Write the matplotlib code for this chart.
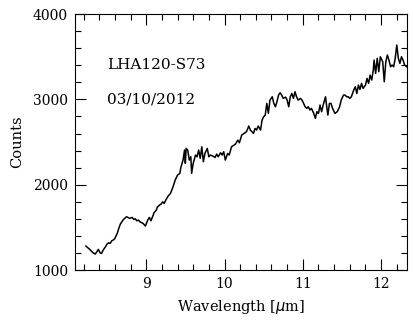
import matplotlib
matplotlib.use("Agg")
import matplotlib.pyplot as plt
from matplotlib.ticker import MultipleLocator

# spectrum
wavelength = [
    8.23, 8.28, 8.32, 8.35, 8.37, 8.39, 8.41, 8.43, 8.45, 8.48, 8.50, 8.52, 8.54,
    8.56, 8.58, 8.60, 8.63, 8.65, 8.67, 8.69, 8.71, 8.75, 8.79, 8.82, 8.84, 8.86,
    8.88, 8.90, 8.92, 8.96, 8.99, 9.02, 9.04, 9.06, 9.09, 9.10, 9.13, 9.14, 9.17,
    9.19, 9.21, 9.23, 9.25, 9.28, 9.31, 9.33, 9.35, 9.37, 9.40, 9.43, 9.44, 9.47,
    9.49, 9.50, 9.51, 9.53, 9.55, 9.57, 9.58, 9.60, 9.63, 9.65, 9.67, 9.69, 9.71,
    9.73, 9.75, 9.78, 9.80, 9.82, 9.85, 9.88, 9.90, 9.92, 9.95, 9.97, 9.99, 10.01,
    10.04, 10.06, 10.09, 10.14, 10.17, 10.19, 10.22, 10.25, 10.28, 10.31, 10.33,
    10.35, 10.37, 10.39, 10.41, 10.43, 10.46, 10.48, 10.50, 10.52, 10.54, 10.56,
    10.58, 10.61, 10.63, 10.65, 10.67, 10.69, 10.71, 10.73, 10.75, 10.78, 10.80,
    10.82, 10.84, 10.86, 10.88, 10.90, 10.92, 10.94, 10.97, 10.99, 11.01, 11.03,
    11.05, 11.07, 11.09, 11.11, 11.14, 11.16, 11.18, 11.20, 11.22, 11.24, 11.26,
    11.29, 11.30, 11.32, 11.34, 11.36, 11.38, 11.41, 11.44, 11.47, 11.49, 11.52,
    11.54, 11.56, 11.58, 11.60, 11.62, 11.65, 11.67, 11.69, 11.71, 11.73, 11.75,
    11.77, 11.80, 11.82, 11.84, 11.86, 11.88, 11.90, 11.91, 11.93, 11.95, 11.97,
    11.99, 12.02, 12.04, 12.06, 12.08, 12.10, 12.12, 12.14, 12.16, 12.18, 12.20,
    12.22, 12.24, 12.26, 12.28, 12.30, 12.33,
]
counts = [
    1281, 1242, 1203, 1188, 1215, 1243, 1203, 1195, 1234, 1273, 1305, 1320, 1313,
    1343, 1352, 1371, 1430, 1488, 1539, 1566, 1594, 1625, 1606, 1617, 1594, 1601,
    1578, 1586, 1566, 1547, 1516, 1586, 1617, 1578, 1645, 1672, 1703, 1735, 1762,
    1773, 1800, 1781, 1820, 1867, 1898, 1945, 1996, 2055, 2113, 2133, 2192, 2289,
    2406, 2250, 2426, 2406, 2289, 2328, 2133, 2250, 2348, 2328, 2406, 2309, 2445,
    2270, 2367, 2426, 2328, 2348, 2336, 2320, 2359, 2328, 2375, 2348, 2387, 2289,
    2367, 2348, 2445, 2476, 2523, 2492, 2582, 2602, 2621, 2688, 2641,
    2621, 2602, 2660, 2641, 2688, 2641, 2758, 2797, 2816, 2953, 2836,
    2992, 3031, 2953, 2914, 2973, 3051, 3078, 3051, 3012, 3027, 2992,
    2914, 3031, 3070, 3012, 3090, 3031, 2992, 3012, 2992, 2953, 2914,
    2895, 2914, 2875, 2895, 2836, 2778, 2856, 2836, 2934, 2856, 2934,
    3031, 2953, 2816, 2953, 2953, 2895, 2836, 2856, 2914, 2992, 3051,
    3051, 3031, 3031, 3012, 3031, 3109, 3148, 3070, 3168, 3117, 3188,
    3129, 3168, 3246, 3188, 3285, 3227, 3344, 3461, 3305, 3481, 3325,
    3500, 3442, 3207, 3442, 3520, 3461, 3383, 3403, 3383, 3481, 3637,
    3481, 3422, 3500, 3461, 3403, 3380,
]

object_name = "LHA120-S73"
obs_date = "03/10/2012"

plt.rcParams["font.family"] = "DejaVu Serif"

fig = plt.figure(figsize=(4.14, 3.2), dpi=100)
ax = fig.add_axes([0.181, 0.156, 0.802, 0.800])

ax.plot(wavelength, counts, color="black", linewidth=1.1)

ax.set_xlim(8.09, 12.33)
ax.set_ylim(1000, 4000)
ax.xaxis.set_major_locator(MultipleLocator(1))
ax.xaxis.set_minor_locator(MultipleLocator(0.2))
ax.yaxis.set_major_locator(MultipleLocator(1000))
ax.yaxis.set_minor_locator(MultipleLocator(200))
ax.tick_params(which="both", direction="in", top=True, right=True, labelsize=10, width=0.8)
ax.tick_params(which="major", length=8, pad=5)
ax.tick_params(which="minor", length=4)
for s in ax.spines.values():
    s.set_linewidth(0.8)

ax.set_xlabel(r"Wavelength [$\mu$m]", fontsize=10.5, labelpad=5)
ax.set_ylabel("Counts", fontsize=10.5, labelpad=6)

ax.text(0.096, 0.80, object_name, transform=ax.transAxes, fontsize=11, va="center")
ax.text(0.096, 0.667, obs_date, transform=ax.transAxes, fontsize=11, va="center")

fig.savefig("out.png", dpi=100)
